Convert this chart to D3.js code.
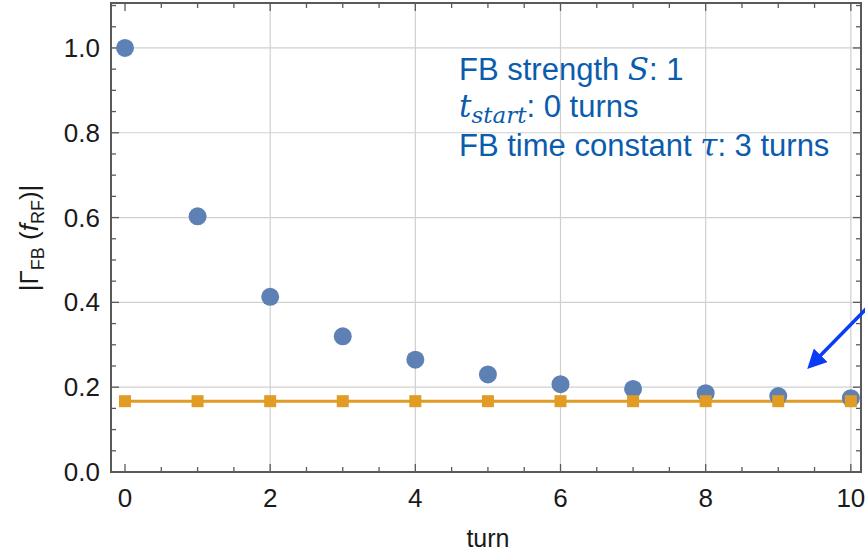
<!DOCTYPE html>
<html><head><meta charset="utf-8">
<script src="https://cdn.jsdelivr.net/npm/d3@7"></script>
<style>body{margin:0;background:#fff}svg{display:block}</style>
</head><body>
<script>
const turns = [0,1,2,3,4,5,6,7,8,9,10];
const gammaFB = [1.0,0.603,0.413,0.320,0.265,0.230,0.207,0.196,0.186,0.179,0.174];
const gammaLimit = [0.167,0.167,0.167,0.167,0.167,0.167,0.167,0.167,0.167,0.167,0.167];
const xTicks = [0,2,4,6,8,10];
const yTicks = [0.0,0.2,0.4,0.6,0.8,1.0];

const W=865,H=555;
const svg=d3.select("body").append("svg").attr("width",W).attr("height",H);
const L=111,R=861,T=3,B=472;
const x=d3.scaleLinear().domain([-0.193,10.14]).range([L,R]);
const y=d3.scaleLinear().domain([0,1.106]).range([B,T]);
const font="Liberation Sans, Arial, sans-serif", mfont="DejaVu Serif, Liberation Serif, serif";

// gridlines
const g=svg.append("g");
g.selectAll(".gx").data(xTicks.filter(d=>d>0)).enter().append("line")
 .attr("x1",d=>x(d)).attr("x2",d=>x(d)).attr("y1",T).attr("y2",B)
 .attr("stroke","#d0d0d0").attr("stroke-width",1.2);
g.selectAll(".gy").data(yTicks.filter(d=>d>0)).enter().append("line")
 .attr("y1",d=>y(d)).attr("y2",d=>y(d)).attr("x1",L).attr("x2",R)
 .attr("stroke","#d0d0d0").attr("stroke-width",1.2);

// frame ticks
const frameCol="#5a5a5a";
const xMinor=d3.range(0,10.01,0.5), yMinor=d3.range(0,1.101,0.05);
function isMajX(d){return Math.abs(d/2-Math.round(d/2))<1e-6;}
function isMajY(d){return Math.abs(d/0.2-Math.round(d/0.2))<1e-6;}
xMinor.forEach(d=>{
  const len=isMajX(d)?8:5;
  svg.append("line").attr("x1",x(d)).attr("x2",x(d)).attr("y1",B).attr("y2",B-len).attr("stroke",frameCol).attr("stroke-width",1.3);
  svg.append("line").attr("x1",x(d)).attr("x2",x(d)).attr("y1",T).attr("y2",T+len).attr("stroke",frameCol).attr("stroke-width",1.3);
});
yMinor.forEach(d=>{
  const len=isMajY(d)?8:5;
  svg.append("line").attr("y1",y(d)).attr("y2",y(d)).attr("x1",L).attr("x2",L+len).attr("stroke",frameCol).attr("stroke-width",1.3);
  svg.append("line").attr("y1",y(d)).attr("y2",y(d)).attr("x1",R).attr("x2",R-len).attr("stroke",frameCol).attr("stroke-width",1.3);
});
svg.append("rect").attr("x",L).attr("y",T).attr("width",R-L).attr("height",B-T)
 .attr("fill","none").attr("stroke",frameCol).attr("stroke-width",2);

// tick labels
svg.selectAll(".xl").data(xTicks).enter().append("text")
 .attr("x",d=>x(d)).attr("y",507).attr("text-anchor","middle")
 .attr("font-family",font).attr("font-size",26).attr("fill","#1a1a1a")
 .text(d=>d);
svg.selectAll(".yl").data(yTicks).enter().append("text")
 .attr("x",100).attr("y",d=>y(d)+9).attr("text-anchor","end")
 .attr("font-family",font).attr("font-size",26).attr("fill","#1a1a1a")
 .text(d=>d.toFixed(1));

// axis titles
svg.append("text").attr("x",x(5)).attr("y",547).attr("text-anchor","middle")
 .attr("font-family",font).attr("font-size",25).attr("fill","#1a1a1a").text("turn");
const yl=svg.append("text").attr("transform","translate(38,238) rotate(-90)").attr("text-anchor","middle")
 .attr("font-family",font).attr("font-size",26).attr("fill","#1a1a1a");
yl.append("tspan").text("|Γ");
yl.append("tspan").attr("font-size",18).attr("dy",6).text("FB");
yl.append("tspan").attr("dy",-6).text(" (");
yl.append("tspan").attr("font-style","italic").text("f");
yl.append("tspan").attr("font-size",18).attr("dy",6).text("RF");
yl.append("tspan").attr("dy",-6).text(")|");

// orange line + squares
const orange="#E09C24", blue="#5E81B5";
svg.append("path").datum(turns.map((t,i)=>[t,gammaLimit[i]]))
 .attr("d",d3.line().x(d=>x(d[0])).y(d=>y(d[1])))
 .attr("fill","none").attr("stroke",orange).attr("stroke-width",3);
svg.selectAll(".bp").data(turns.map((t,i)=>[t,gammaFB[i]])).enter().append("circle")
 .attr("cx",d=>x(d[0])).attr("cy",d=>y(d[1])).attr("r",9).attr("fill",blue);
svg.selectAll(".sq").data(turns.map((t,i)=>[t,gammaLimit[i]])).enter().append("rect")
 .attr("x",d=>x(d[0])-6).attr("y",d=>y(d[1])-6).attr("width",12).attr("height",12).attr("fill",orange);

// annotation
const tc="#0B5CAD";
const a1=svg.append("text").attr("x",459).attr("y",80).attr("font-family",font).attr("font-size",31).attr("fill",tc);
a1.append("tspan").text("FB strength ");
a1.append("tspan").attr("font-family",mfont).attr("font-style","italic").text("S");
a1.append("tspan").text(": 1");
const a2=svg.append("text").attr("x",459).attr("y",117).attr("font-family",font).attr("font-size",31).attr("fill",tc);
a2.append("tspan").attr("font-family",mfont).attr("font-style","italic").text("t");
a2.append("tspan").attr("font-family",mfont).attr("font-style","italic").attr("font-size",23).attr("dy",6).text("start");
a2.append("tspan").attr("dy",-6).text(": 0 turns");
const a3=svg.append("text").attr("x",459).attr("y",156).attr("font-family",font).attr("font-size",31).attr("fill",tc);
a3.append("tspan").text("FB time constant ");
a3.append("tspan").attr("font-family",mfont).attr("font-style","italic").text("τ");
a3.append("tspan").text(": 3 turns");

// arrow
const defs=svg.append("defs");
defs.append("marker").attr("id","ah").attr("viewBox","0 0 10 10").attr("refX",2).attr("refY",5)
 .attr("markerWidth",5.5).attr("markerHeight",5.5).attr("orient","auto")
 .append("path").attr("d","M0,0 L10,5 L0,10 z").attr("fill","#0A3CF5");
svg.append("line").attr("x1",868).attr("y1",307).attr("x2",818).attr("y2",358)
 .attr("stroke","#0A3CF5").attr("stroke-width",3.5).attr("marker-end","url(#ah)");
</script>
</body></html>
